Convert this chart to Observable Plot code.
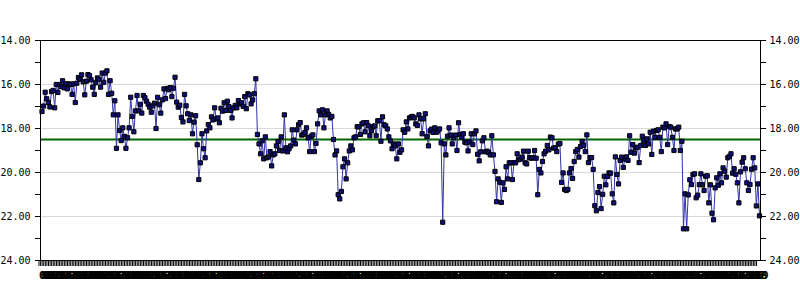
<!DOCTYPE html>
<html><head><meta charset="utf-8">
<script src="https://cdn.jsdelivr.net/npm/d3@7"></script>
<script src="https://cdn.jsdelivr.net/npm/@observablehq/plot@0.6"></script>
<style>html,body{margin:0;padding:0;background:#fff}#chart svg{display:block}</style>
</head><body><div id="chart"></div>
<script>
// series values, read left to right
const seg1 = [17.23,16.98,16.35,16.65,16.82,17.02,16.32,16.27,17.06,16.0,16.36,16.0,16.1,15.83,16.15,15.97,16.2,15.97,16.0,16.45,15.97,16.82,15.94,15.68,15.76,15.56,15.88,16.47,15.85,15.55,15.6,15.79,16.12,16.45,15.92,15.7,15.76,16.12,15.48,15.9,15.48,15.38,16.45,15.83,16.4];
const seg2 = [17.38,16.74,18.9,17.38,18.09,18.55,17.97,18.36,18.9,18.42,17.97,16.58,17.45,18.15,17.2,16.5,17.2,16.9,17.3,16.5,16.6,16.76,16.9,17.03,17.26,16.97,16.85,18.0,16.58,16.92,17.3,16.7,16.2,16.64,16.18,16.24,16.14,16.55,16.17,15.67,16.8,17.03,16.94,17.5,17.7,16.45,16.97,17.33,17.64,17.38,18.24];
const seg3 = [17.71,17.42,18.74,20.32,19.56,18.24,18.92,19.33,18.11,17.82,17.97,17.47,17.61,17.06,17.56,17.52,17.74,17.08,17.21,16.83,17.18,16.76,17.0,17.18,17.52,17.06,16.95,17.06,16.73,16.88,16.83,16.99,16.55,17.1,16.42,16.47,16.88,16.7,16.42,15.74,18.27,18.7,19.15,18.56,19.38,18.38,19.33,19.29,19.05,19.7,19.2,19.15,18.79,18.59,19.0,18.38,19.02,17.38,18.88,19.06,18.92,18.79,18.06,18.53,18.7,18.06,17.83,17.73,18.3,18.27,18.18,17.97,18.42,19.05,18.35,18.29,19.05,18.68,17.79,17.2,17.38,17.15,17.97,17.38,17.2,17.36,17.52,17.45,18.5,19.2,19.02,21.01,21.2,20.86,19.74,19.38,20.29,19.56,19.02,18.79,18.97,18.42,18.38,17.92,17.92,18.27,17.79,17.74,18.15,17.73,17.88,18.33,18.11,17.92,17.88,18.33,17.65,17.65,18.58,17.47,17.83,17.88,18.02,18.38,18.56,18.92,18.7,18.79,19.38];
const seg4 = [18.7,19.08,18.97,18.06,18.17,17.7,18.02,17.52,17.48,17.45,17.52,17.79,17.86,17.38,17.56,18.24,17.56,17.33,18.36,18.79,18.11,18.03,18.18,17.97,18.17,18.11,18.02,18.65,22.26,18.7,19.2,18.35,17.97,18.3,18.7,18.42,18.3,19.0,17.74,18.27,18.39,18.24,18.62,18.65,19.02,18.61,18.24,18.73,18.24,18.11,19.17,19.47,19.06,18.56,18.42,19.06,19.03,19.09,19.2,18.33,19.2,19.95,21.33,20.29,20.44,21.36,20.47,20.77,19.74,20.29,19.56,19.56,20.32,19.55,19.56,19.15,19.42,19.39,19.3,19.03,19.56,19.61,19.03,19.33,19.35,19.33,19.0,19.35,21.01,19.86,20.02,19.5,19.15,19.03,18.77,18.97,18.39,18.42,18.89,18.88,19.05,18.71,18.68,20.45,20.02,20.77,20.82,20.77,20.02,19.82,20.27,19.5,19.05,18.95,19.3,18.82,18.59,18.76,19.05,18.29,19.55,19.33,19.32,19.86,21.51,21.74];
const seg5 = [20.91,20.64,21.64,20.99,20.17,20.56,20.18,20.02,20.03,20.97,21.38,19.29,20.09,20.52,19.45,19.3,19.77,19.39,19.29,19.45];
const seg6 = [18.33,19.08,18.73,19.12,18.88,18.85,19.55,18.77,18.35,18.55,18.77,18.47,18.7,18.17,19.18,18.12,18.4,18.09,18.06,18.4,19.05,17.94,17.97,17.79,18.73,17.91,17.94,18.4,19.0,18.02,18.02,17.94,19.0,18.58];
const seg7 = [22.56,20.97,22.56,21.02,20.33,20.55,20.09,20.06,21.15,21.03,20.55,20.06,20.56,20.82,20.17,20.15,21.38,20.56,21.85,22.15,20.7,20.24,20.58,20.06,20.47,19.79,19.94,20.21,19.33,19.27,19.15,20.03,19.83,20.08,20.47,21.38,19.97,19.53,19.33,19.83,20.47,20.82,20.55,19.85,19.33,19.79,21.52,20.52,21.97];
const referenceLevel = [18.5];
const yTicks = [14,15,16,17,18,19,20,21,22,23,24];
const gridValues = [16,18,20,22];
const firstLabelDate = "2008-01-01";

const values = [].concat(seg1, seg2, seg3, seg4, seg5, seg6, seg7);
const N = values.length;
const data = values.map((v, i) => ({i, v}));
const start = new Date(firstLabelDate + "T00:00:00Z");
const xLabels = d3.range(N).map(i => String(d3.utcDay.offset(start, i).getUTCDate()).padStart(2, "0"));

const chart = Plot.plot({
  width: 800, height: 300,
  marginLeft: 40, marginRight: 40, marginTop: 40, marginBottom: 40,
  style: {fontFamily: "'DejaVu Sans Mono', monospace", fontSize: "10px", background: "#fff", color: "#000"},
  x: {domain: [0, N - 1], insetLeft: 1.5, insetRight: 1},
  y: {domain: [14, 24], reverse: true},
  marks: [
    Plot.gridY(gridValues, {stroke: "#d9d9d9", strokeOpacity: 1}),
    Plot.ruleY(referenceLevel, {stroke: "#006400", strokeWidth: 2}),
    Plot.line(data, {x: "i", y: "v", stroke: "#3434aa", strokeWidth: 1}),
    Plot.dot(data, {x: "i", y: "v", symbol: "square", r: 2.35, fill: "#10107c", stroke: "#000", strokeWidth: 1}),
    Plot.frame({stroke: "#000"}),
    Plot.axisY(yTicks, {anchor: "left", label: null, tickSize: 5, tickPadding: 5, tickFormat: d => d % 2 === 0 ? d.toFixed(2) : ""}),
    Plot.axisY(yTicks, {anchor: "right", label: null, tickSize: 5, tickPadding: 4, tickFormat: d => d % 2 === 0 ? d.toFixed(2) : ""}),
    Plot.axisX(d3.range(N), {label: null, tickSize: 6, tickPadding: 5, tickFormat: i => xLabels[i], textAnchor: "start", dx: -3, fontWeight: "bold"})
  ]
});
document.getElementById("chart").append(chart);
</script>
</body></html>
